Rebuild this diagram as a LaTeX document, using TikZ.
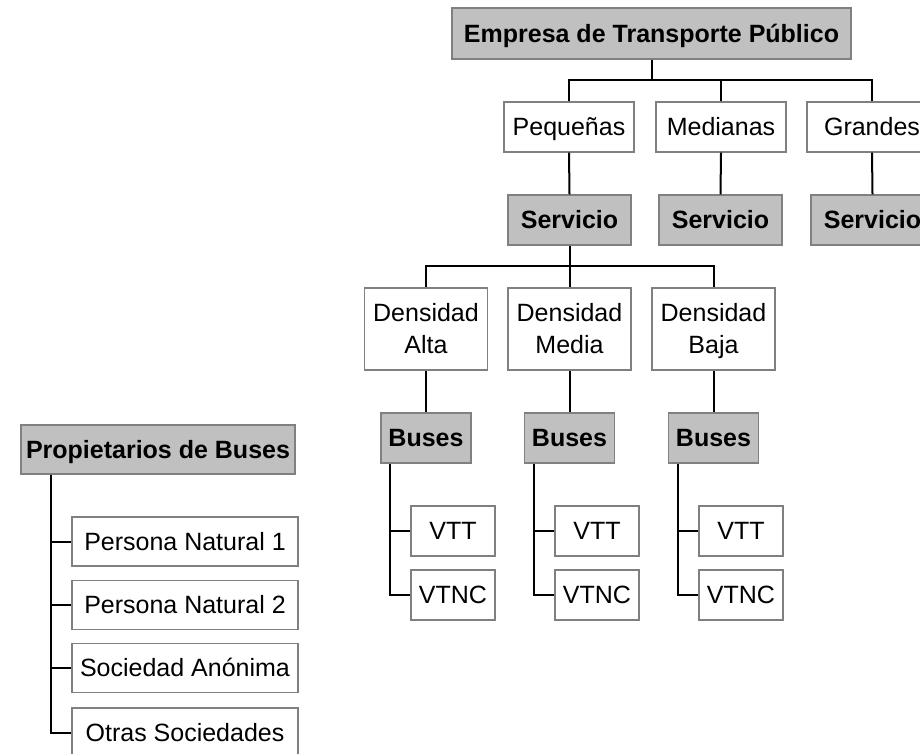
\documentclass[tikz,border=0pt]{standalone}
\usepackage{fontspec}
\setmainfont{Liberation Sans}
\definecolor{boxfill}{HTML}{C0C0C0}
\definecolor{boxline}{HTML}{808080}
\begin{document}
\begin{tikzpicture}[x=1pt,y=-1pt,
  base/.style={draw=boxline, line width=1.4pt, inner sep=0pt, align=center,
    font=\fontsize{25}{32}\selectfont},
  one/.style={text height=21pt, text depth=4pt},
  graybox/.style={base, one, fill=boxfill, font=\fontsize{25}{32}\selectfont\bfseries},
  whitebox/.style={base, one, fill=white},
  twobox/.style={base, fill=white, text height=52pt, text depth=4pt},
  conn/.style={draw=black, line width=2pt}]
\clip (0,0) rectangle (920,753);
\fill[white] (0,0) rectangle (920,753);

% top
\node[graybox, minimum width=399pt, minimum height=51pt] (emp) at (651.5,33.5) {Empresa de Transporte Público};
\node[whitebox, minimum width=130pt, minimum height=50pt] (peq) at (569,127) {Pequeñas};
\node[whitebox, minimum width=130pt, minimum height=50pt] (med) at (721,127) {Medianas};
\node[whitebox, minimum width=130pt, minimum height=50pt] (gra) at (872,127) {Grandes};
\node[graybox, minimum width=123pt, minimum height=50pt] (s1) at (569.5,220) {Servicio};
\node[graybox, minimum width=123pt, minimum height=50pt] (s2) at (720.5,220) {Servicio};
\node[graybox, minimum width=123pt, minimum height=50pt] (s3) at (872.5,220) {Servicio};

% densities
\node[twobox, minimum width=123pt, minimum height=82pt] (da) at (426,329) {Densidad\\Alta};
\node[twobox, minimum width=123pt, minimum height=82pt] (dm) at (569.5,329) {Densidad\\Media};
\node[twobox, minimum width=123pt, minimum height=82pt] (db) at (713.5,329) {Densidad\\Baja};

% buses
\node[graybox, minimum width=90pt, minimum height=50pt] (ba) at (426,438) {Buses};
\node[graybox, minimum width=90pt, minimum height=50pt] (bm) at (569.5,438) {Buses};
\node[graybox, minimum width=90pt, minimum height=50pt] (bb) at (713.5,438) {Buses};

\node[whitebox, minimum width=84pt, minimum height=50pt] (va) at (453,531) {VTT};
\node[whitebox, minimum width=84pt, minimum height=50pt] (na) at (453,595) {VTNC};
\node[whitebox, minimum width=84pt, minimum height=50pt] (vm) at (597,531) {VTT};
\node[whitebox, minimum width=84pt, minimum height=50pt] (nm) at (597,595) {VTNC};
\node[whitebox, minimum width=84pt, minimum height=50pt] (vb) at (741,531) {VTT};
\node[whitebox, minimum width=84pt, minimum height=50pt] (nb) at (741,595) {VTNC};

% owners
\node[graybox, minimum width=274pt, minimum height=49pt] (prop) at (158,449.5) {Propietarios de Buses};
\node[whitebox, minimum width=226pt, minimum height=49pt] (p1) at (185,541.5) {Persona Natural 1};
\node[whitebox, minimum width=226pt, minimum height=49pt] (p2) at (185,605) {Persona Natural 2};
\node[whitebox, minimum width=226pt, minimum height=49pt] (p3) at (185,668) {Sociedad Anónima};
\node[whitebox, minimum width=226pt, minimum height=50pt] (p4) at (185,733) {Otras Sociedades};

% connectors
\coordinate (b1) at (651.5,80);
\draw[conn] (emp.south) -- (b1);
\draw[conn] (peq.north) |- (b1);
\draw[conn] (gra.north) |- (b1);
\draw[conn] (med.north) -- (med.north |- b1);
\draw[conn] (peq.south) -- (s1.north);
\draw[conn] (med.south) -- (s2.north);
\draw[conn] (gra.south) -- (s3.north);

\coordinate (b2) at (569.5,266);
\draw[conn] (s1.south) -- (b2);
\draw[conn] (da.north) |- (b2);
\draw[conn] (db.north) |- (b2);
\draw[conn] (dm.north) -- (b2);
\draw[conn] (da.south) -- (ba.north);
\draw[conn] (dm.south) -- (bm.north);
\draw[conn] (db.south) -- (bb.north);

\draw[conn] ([xshift=10pt]ba.south west) |- (va.west);
\draw[conn] ([xshift=10pt]ba.south west) |- (na.west);
\draw[conn] ([xshift=10.5pt]bm.south west) |- (vm.west);
\draw[conn] ([xshift=10.5pt]bm.south west) |- (nm.west);
\draw[conn] ([xshift=10pt]bb.south west) |- (vb.west);
\draw[conn] ([xshift=10pt]bb.south west) |- (nb.west);

\draw[conn] ([xshift=31pt]prop.south west) |- (p1.west);
\draw[conn] ([xshift=31pt]prop.south west) |- (p2.west);
\draw[conn] ([xshift=31pt]prop.south west) |- (p3.west);
\draw[conn] ([xshift=31pt]prop.south west) |- (p4.west);
\end{tikzpicture}
\end{document}
